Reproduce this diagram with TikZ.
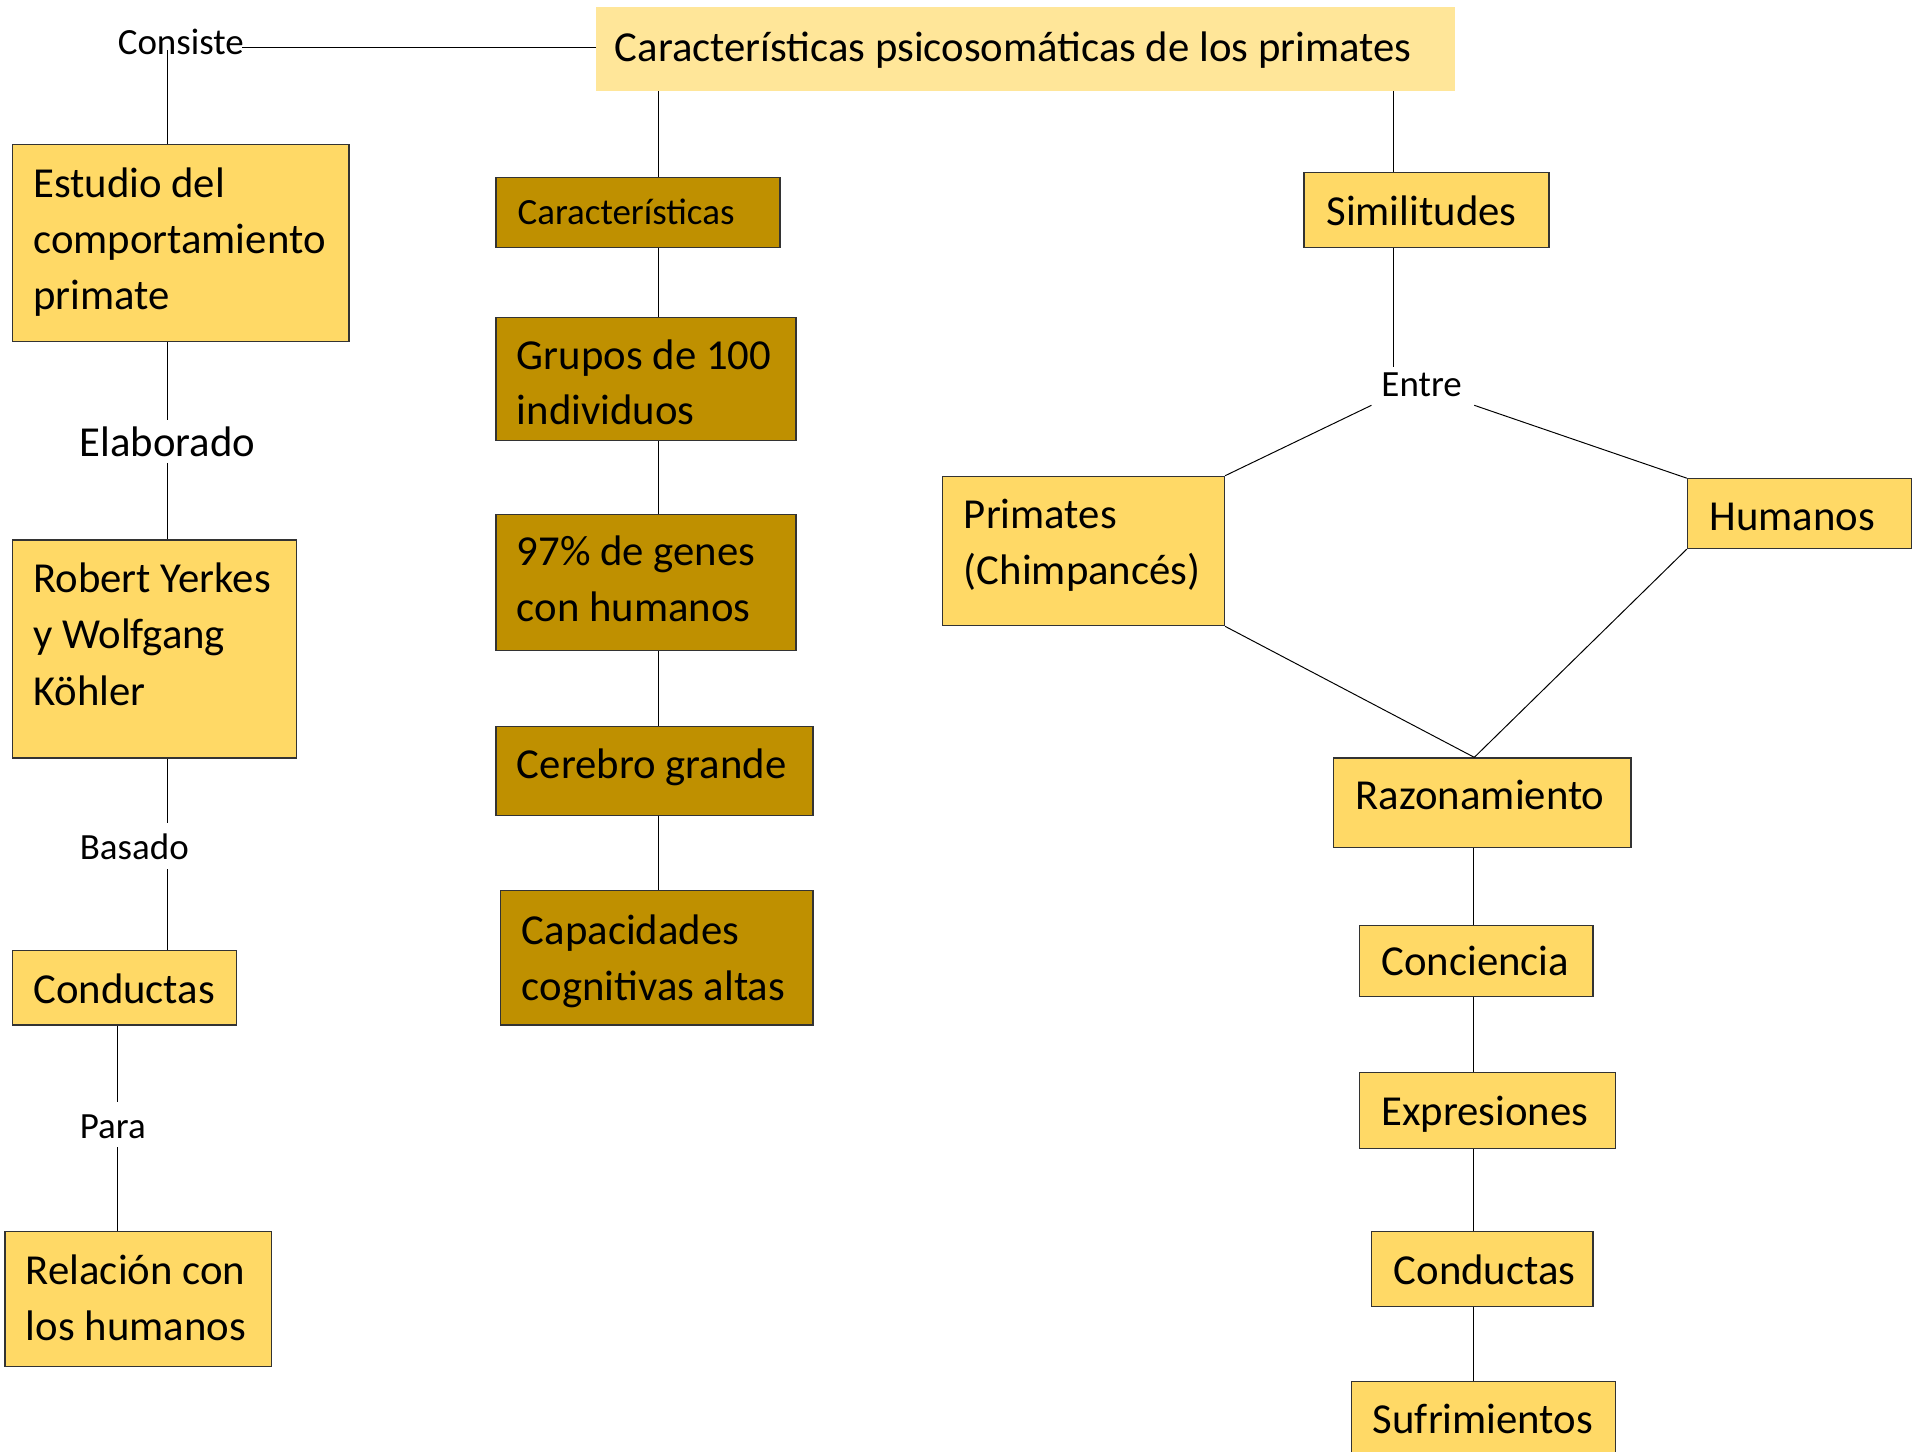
\documentclass[tikz,border=0pt]{standalone}
\usepackage{fontspec}
\setmainfont{Carlito}
\definecolor{titlefill}{HTML}{FFE699}
\definecolor{lightbox}{HTML}{FFD966}
\definecolor{darkbox}{HTML}{BF9000}
\definecolor{edge}{HTML}{333333}
\begin{document}
\begin{tikzpicture}[x=1pt,y=-1pt,
  lbox/.style={rectangle,fill=lightbox,draw=edge,line width=1pt,inner sep=0pt},
  dbox/.style={rectangle,fill=darkbox,draw=edge,line width=1pt,inner sep=0pt},
  tbox/.style={rectangle,fill=titlefill,inner sep=0pt},
  big/.style={anchor=base west,inner sep=0pt,font=\fontsize{34.9}{46}\selectfont},
  small/.style={anchor=base west,inner sep=0pt,font=\fontsize{30.2}{40}\selectfont},
  conn/.style={draw=black,line width=0.8pt}]
\clip (0,0) rectangle (1568,1185);
\fill[white] (0,0) rectangle (1568,1185);
% boxes
\node[tbox,minimum width=701pt,minimum height=68pt] (title) at (837.5,40) {};
\node[lbox,minimum width=275pt,minimum height=161pt] (estudio) at (147.5,198.5) {};
\node[lbox,minimum width=232pt,minimum height=178pt] (robert) at (126,530) {};
\node[lbox,minimum width=183pt,minimum height=61pt] (condL) at (101.5,806.5) {};
\node[lbox,minimum width=218pt,minimum height=110pt] (relacion) at (113,1061) {};
\node[dbox,minimum width=232pt,minimum height=57pt] (caract) at (521,173.5) {};
\node[dbox,minimum width=245pt,minimum height=101pt] (grupos) at (527.5,309.5) {};
\node[dbox,minimum width=245pt,minimum height=111pt] (genes) at (527.5,475.5) {};
\node[dbox,minimum width=259pt,minimum height=73pt] (cerebro) at (534.5,629.5) {};
\node[dbox,minimum width=255pt,minimum height=110pt] (capac) at (536.5,782) {};
\node[lbox,minimum width=200pt,minimum height=61pt] (simil) at (1165,171.5) {};
\node[lbox,minimum width=230pt,minimum height=122pt] (primates) at (885,450) {};
\node[lbox,minimum width=183pt,minimum height=57pt] (humanos) at (1469.5,419.5) {};
\node[lbox,minimum width=243pt,minimum height=73pt] (razon) at (1210.5,655.5) {};
\node[lbox,minimum width=191pt,minimum height=58pt] (concien) at (1205.5,785) {};
\node[lbox,minimum width=209pt,minimum height=62pt] (expres) at (1214.5,907) {};
\node[lbox,minimum width=181pt,minimum height=61pt] (condR) at (1210.5,1036.5) {};
\node[lbox,minimum width=215pt,minimum height=76pt] (sufri) at (1211.5,1166) {};
% texts
\node[big] (t0) at (502,50.5) {Características psicosomáticas de los primates};
\node[big] (t1a) at (27,161) {Estudio del};
\node[big] (t1b) at (27,207) {comportamiento};
\node[big] (t1c) at (27,253) {primate};
\node[big] (t2a) at (27,484) {Robert Yerkes};
\node[big] (t2b) at (27,530) {y Wolfgang};
\node[big] (t2c) at (27,576) {Köhler};
\node[big] (t3) at (27,819.5) {Conductas};
\node[big] (t4a) at (21,1049) {Relación con};
\node[big] (t4b) at (21,1094.5) {los humanos};
\node[small] (t5) at (422.5,183) {Características};
\node[big] (t6a) at (422,301.5) {Grupos de 100};
\node[big] (t6b) at (422,347) {individuos};
\node[big] (t7a) at (422,462) {97\% de genes};
\node[big] (t7b) at (422,507.5) {con humanos};
\node[big] (t8) at (422,635.5) {Cerebro grande};
\node[big] (t9a) at (426,771) {Capacidades};
\node[big] (t9b) at (426,817) {cognitivas altas};
\node[big] (t10) at (1083,184) {Similitudes};
\node[big] (t11a) at (787,432) {Primates};
\node[big] (t11b) at (787,477.5) {(Chimpancés)};
\node[big] (t12) at (1396,433) {Humanos};
\node[big] (t13) at (1107,661) {Razonamiento};
\node[big] (t14) at (1128,797) {Conciencia};
\node[big] (t15) at (1128,919) {Expresiones};
\node[big] (t16) at (1138,1049) {Conductas};
\node[big] (t17) at (1121,1171) {Sufrimientos};
% link labels
\node[small] (lcons) at (96,44.5) {Consiste};
\node[big] (lelab) at (65,373) {Elaborado};
\node[small] (lbas) at (65,702) {Basado};
\node[small] (lpara) at (65,929.5) {Para};
\node[small] (lentre) at (1128,323.5) {Entre};
% helper coordinates
\coordinate (c1) at (137,41);
\coordinate (c1b) at (198,39);
\coordinate (e1) at (137,343);
\coordinate (e2) at (137,378);
\coordinate (b1) at (137,672);
\coordinate (b2) at (137,710);
\coordinate (p1) at (96,900);
\coordinate (p2) at (96,937);
\coordinate (m) at (538,0);
\coordinate (r) at (1138,300);
\coordinate (en2) at (1120,331);
\coordinate (en3) at (1204,331);
\coordinate (rz) at (1204,0);
\coordinate (q) at (1203,0);
% connectors
\draw[conn] (title.west |- c1b) -- (c1b);
\draw[conn] (c1) -- (c1 |- estudio.north);
\draw[conn] (estudio.south -| e1) -- (e1);
\draw[conn] (e2) -- (e2 |- robert.north);
\draw[conn] (robert.south -| b1) -- (b1);
\draw[conn] (b2) -- (b2 |- condL.north);
\draw[conn] (condL.south -| p1) -- (p1);
\draw[conn] (p2) -- (p2 |- relacion.north);
\draw[conn] (title.south -| m) -- (caract.north -| m);
\draw[conn] (caract.south -| m) -- (grupos.north -| m);
\draw[conn] (grupos.south -| m) -- (genes.north -| m);
\draw[conn] (genes.south -| m) -- (cerebro.north -| m);
\draw[conn] (cerebro.south -| m) -- (capac.north -| m);
\draw[conn] (title.south -| r) -- (simil.north -| r);
\draw[conn] (simil.south -| r) -- (r);
\draw[conn] (en2) -- (primates.north east);
\draw[conn] (en3) -- (humanos.north west);
\draw[conn] (primates.south east) -- (razon.north -| rz);
\draw[conn] (humanos.south west) -- (razon.north -| rz);
\draw[conn] (razon.south -| q) -- (concien.north -| q);
\draw[conn] (concien.south -| q) -- (expres.north -| q);
\draw[conn] (expres.south -| q) -- (condR.north -| q);
\draw[conn] (condR.south -| q) -- (sufri.north -| q);
\end{tikzpicture}
\end{document}
